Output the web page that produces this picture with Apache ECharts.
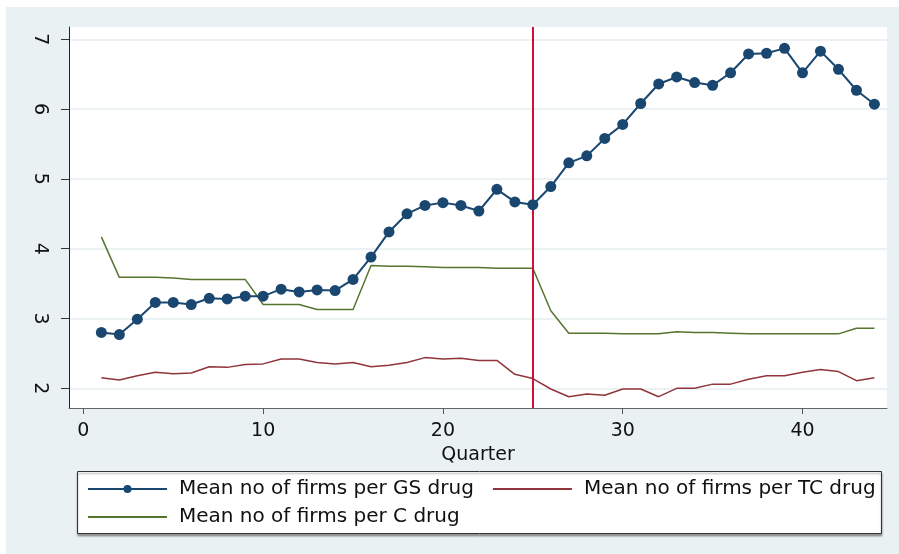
<!DOCTYPE html>
<html>
<head>
<meta charset="utf-8">
<script src="https://cdn.jsdelivr.net/npm/echarts@6/dist/echarts.min.js"></script>
<style>
  html, body { margin: 0; padding: 0; background: #fff; }
  #chart { width: 899px; height: 554px; }
</style>
</head>
<body>
<div id="chart"></div>
<script>
// quarters 1..44
const quarters = [1, 2, 3, 4, 5, 6, 7, 8, 9, 10, 11, 12, 13, 14, 15, 16, 17, 18, 19, 20, 21, 22,
  23, 24, 25, 26, 27, 28, 29, 30, 31, 32, 33, 34, 35, 36, 37, 38, 39, 40, 41, 42, 43, 44];

const gsFirms = [2.80, 2.77, 2.99, 3.23, 3.23, 3.20, 3.29, 3.28, 3.32, 3.32, 3.42, 3.38, 3.41, 3.40,
  3.56, 3.88, 4.24, 4.50, 4.62, 4.66, 4.62, 4.54, 4.85, 4.67, 4.63, 4.89, 5.23, 5.33, 5.58, 5.78,
  6.08, 6.36, 6.46, 6.38, 6.34, 6.52, 6.79, 6.80, 6.87, 6.52, 6.83, 6.57, 6.27, 6.07];

const tcFirms = [2.15, 2.12, 2.18, 2.23, 2.21, 2.22, 2.31, 2.30, 2.34, 2.35, 2.42, 2.42, 2.37, 2.35,
  2.37, 2.31, 2.33, 2.37, 2.44, 2.42, 2.43, 2.40, 2.40, 2.20, 2.14, 1.99, 1.88, 1.92, 1.90, 1.99,
  1.99, 1.88, 2.00, 2.00, 2.06, 2.06, 2.13, 2.18, 2.18, 2.23, 2.27, 2.24, 2.11, 2.15];

const cFirms = [4.17, 3.59, 3.59, 3.59, 3.58, 3.56, 3.56, 3.56, 3.56, 3.20, 3.20, 3.20, 3.13, 3.13,
  3.13, 3.76, 3.75, 3.75, 3.74, 3.73, 3.73, 3.73, 3.72, 3.72, 3.72, 3.11, 2.79, 2.79, 2.79, 2.78,
  2.78, 2.78, 2.81, 2.80, 2.80, 2.79, 2.78, 2.78, 2.78, 2.78, 2.78, 2.78, 2.86, 2.86];

const xTicks = [0, 10, 20, 30, 40];
const yTicks = [2, 3, 4, 5, 6, 7];
const policyQuarter = 25;

const names = [
  "Mean no of firms per GS drug",
  "Mean no of firms per TC drug",
  "Mean no of firms per C drug"
];

const pairs = (ys) => quarters.map((q, i) => [q, ys[i]]);
const font = "DejaVu Sans";

const chart = echarts.init(document.getElementById("chart"), null, { renderer: "canvas" });

// shared legend look, two rows like the Stata legend
const legendBase = {
  left: 87,
  orient: "horizontal",
  padding: 0,
  itemWidth: 79,
  itemHeight: 10,
  itemGap: 18,
  selectedMode: false,
  textStyle: { fontSize: 20, color: "#111", fontFamily: font, padding: [0, 0, 0, 7] }
};
const noDot = { itemStyle: { opacity: 0 } };

const option = {
  animation: false,
  backgroundColor: "#fff",
  textStyle: { fontFamily: font },
  graphic: [
    {
      type: "rect",
      z: -10,
      shape: { x: 6, y: 7, width: 893, height: 547 },
      style: { fill: "#eaf1f3" }
    },
    {
      type: "rect",
      z: -5,
      shape: { x: 77.5, y: 471.5, width: 804, height: 62 },
      style: {
        fill: "#fff", stroke: "#333", lineWidth: 1,
        shadowColor: "rgba(0,0,0,0.35)", shadowOffsetY: 2, shadowBlur: 2
      }
    }
  ],
  grid: {
    left: 69, top: 27, right: 12, bottom: 146,
    show: true, backgroundColor: "#fff", borderWidth: 0
  },
  xAxis: {
    type: "value",
    min: -0.8,
    max: 44.7,
    name: "Quarter",
    nameLocation: "middle",
    nameGap: 33,
    nameTextStyle: { fontSize: 19, color: "#111", fontFamily: font },
    axisLine: { onZero: false, lineStyle: { color: "#666", width: 1 } },
    axisTick: { customValues: xTicks, length: 6, lineStyle: { color: "#555" } },
    axisLabel: { customValues: xTicks, fontSize: 19, color: "#111", margin: 14 },
    splitLine: { show: false }
  },
  yAxis: {
    type: "value",
    min: 1.718,
    max: 7.176,
    axisLine: { show: true, onZero: false, lineStyle: { color: "#222", width: 1 } },
    axisTick: { show: true, customValues: yTicks, length: 8, lineStyle: { color: "#333" } },
    axisLabel: { customValues: yTicks, fontSize: 19, color: "#111", rotate: -90, margin: 20 },
    splitLine: { show: true, lineStyle: { color: "#e6eef1", width: 1.5 } }
  },
  legend: [
    Object.assign({}, legendBase, {
      top: 479,
      data: [names[0], Object.assign({ name: names[1] }, noDot)]
    }),
    Object.assign({}, legendBase, {
      top: 507,
      data: [Object.assign({ name: names[2] }, noDot)]
    })
  ],
  series: [
    {
      name: names[0],
      type: "line",
      data: pairs(gsFirms),
      symbol: "circle",
      symbolSize: 11,
      showAllSymbol: true,
      itemStyle: { color: "#1a476f" },
      lineStyle: { color: "#1a476f", width: 2 },
      z: 5,
      markLine: {
        silent: true,
        symbol: "none",
        label: { show: false },
        lineStyle: { color: "#d0103a", width: 2, type: "solid" },
        data: [{ xAxis: policyQuarter }]
      }
    },
    {
      name: names[1],
      type: "line",
      data: pairs(tcFirms),
      symbol: "none",
      itemStyle: { color: "#90353b" },
      lineStyle: { color: "#90353b", width: 1.5 },
      z: 3
    },
    {
      name: names[2],
      type: "line",
      data: pairs(cFirms),
      symbol: "none",
      itemStyle: { color: "#55752f" },
      lineStyle: { color: "#55752f", width: 1.5 },
      z: 3
    }
  ]
};

chart.setOption(option);
</script>
</body>
</html>
